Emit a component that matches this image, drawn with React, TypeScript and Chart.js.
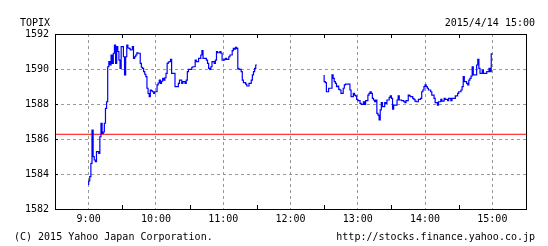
import React, { useEffect, useRef } from "react";
import { Chart, registerables } from "chart.js";

Chart.register(...registerables);

const TITLE = "TOPIX";
const STAMP = "2015/4/14 15:00";
const COPYRIGHT = "(C) 2015 Yahoo Japan Corporation.";
const SOURCE = "http://stocks.finance.yahoo.co.jp";

const PREV_CLOSE = 1586.27;
const Y_MIN = 1582;
const Y_MAX = 1592;
const Y_STEP = 2;

// x axis in minutes since midnight: 8:30 .. 15:30
const X_MIN = 510;
const X_MAX = 930;
const X_STEP = 30;
const HOUR_LABELS = ["9:00", "10:00", "11:00", "12:00", "13:00", "14:00", "15:00"];

// 1-minute values, 9:00 - 11:30
const MORNING_START = 540;
const MORNING = [
  1583.37, 1583.6, 1583.85, 1584.61, 1586.51, 1584.99, 1584.8, 1584.7, 1585.28, 1585.28,
  1585.18, 1586.13, 1586.9, 1586.32, 1586.4, 1586.9, 1587.75, 1588.13, 1590.13, 1590.42,
  1590.23, 1590.8, 1590.32, 1590.9, 1591.37, 1590.32, 1591.28, 1591.0, 1590.51, 1590.04,
  1591.28, 1591.28, 1590.7, 1589.66, 1590.7, 1591.37, 1591.2, 1591.18, 1591.09, 1591.1,
  1591.28, 1590.61, 1590.7, 1590.8, 1590.93, 1590.9, 1590.9, 1590.32, 1590.1, 1590.04,
  1589.85, 1589.7, 1589.56, 1588.9, 1588.6, 1588.42, 1588.8, 1588.75, 1588.7, 1588.61,
  1588.7, 1588.7, 1589.09, 1589.2, 1589.37, 1589.18, 1589.3, 1589.47, 1589.37, 1589.5,
  1589.75, 1590.32, 1590.4, 1590.42, 1590.55, 1589.75, 1589.75, 1589.75, 1588.99, 1588.99,
  1588.99, 1589.18, 1589.37, 1589.37, 1589.18, 1589.28, 1589.28, 1589.18, 1589.37, 1589.85,
  1589.98, 1589.98, 1589.98, 1590.1, 1590.13, 1590.13, 1590.51, 1590.42, 1590.42, 1590.61,
  1590.61, 1590.8, 1591.05, 1590.61, 1590.61, 1590.61, 1590.51, 1590.32, 1590.04, 1589.98,
  1590.13, 1590.42, 1590.42, 1590.32, 1590.51, 1590.99, 1590.93, 1590.93, 1590.99, 1590.9,
  1590.51, 1590.51, 1590.55, 1590.61, 1590.55, 1590.55, 1590.7, 1590.8, 1590.8, 1591.05,
  1591.18, 1591.13, 1591.24, 1591.18, 1590.04, 1589.98, 1589.98, 1589.85, 1589.37, 1589.22,
  1589.22, 1589.14, 1589.03, 1589.03, 1589.18, 1589.18, 1589.37, 1589.66, 1589.85, 1590.04,
  1590.23,
];

// 1-minute values, 12:30 - 15:00
const AFTERNOON_START = 750;
const AFTERNOON = [
  1589.66, 1589.28, 1589.22, 1588.7, 1588.7, 1588.9, 1588.9, 1588.9, 1589.66, 1589.47,
  1589.28, 1589.18, 1588.99, 1589.03, 1588.84, 1588.8, 1588.61, 1588.61, 1588.9, 1589.09,
  1589.14, 1589.14, 1589.14, 1589.14, 1588.8, 1588.42, 1588.42, 1588.61, 1588.51, 1588.46,
  1588.27, 1588.19, 1588.19, 1588.04, 1587.98, 1587.98, 1588.13, 1587.98, 1588.19, 1588.19,
  1588.51, 1588.61, 1588.7, 1588.61, 1588.32, 1588.23, 1588.13, 1588.23, 1587.47, 1587.37,
  1587.09, 1587.66, 1588.08, 1587.85, 1587.85, 1588.08, 1588.04, 1588.23, 1588.23, 1588.38,
  1588.46, 1588.32, 1587.7, 1587.94, 1587.94, 1587.94, 1588.23, 1588.46, 1588.23, 1588.23,
  1588.19, 1588.19, 1588.13, 1588.08, 1588.19, 1588.19, 1588.51, 1588.46, 1588.42, 1588.42,
  1588.32, 1588.27, 1588.17, 1588.13, 1588.13, 1588.27, 1588.27, 1588.32, 1588.7, 1588.8,
  1588.99, 1589.09, 1588.99, 1588.9, 1588.8, 1588.8, 1588.7, 1588.51, 1588.51, 1588.32,
  1588.08, 1588.08, 1587.94, 1588.13, 1588.13, 1588.27, 1588.17, 1588.17, 1588.32, 1588.27,
  1588.27, 1588.19, 1588.32, 1588.32, 1588.19, 1588.32, 1588.32, 1588.32, 1588.46, 1588.46,
  1588.61, 1588.7, 1588.7, 1588.8, 1588.99, 1589.56, 1589.28, 1589.28, 1589.18, 1589.09,
  1589.37, 1589.47, 1589.6, 1590.13, 1589.66, 1589.66, 1589.66, 1590.23, 1590.55, 1590.04,
  1589.75, 1589.75, 1589.94, 1589.75, 1589.75, 1589.75, 1589.85, 1589.85, 1590.04, 1589.85,
  1590.86,
];

const FONT = '10px "DejaVu Sans Mono", "Liberation Mono", monospace';

const isHour = (v: number) => v % 60 === 0 && v > X_MIN && v < X_MAX;

const framePlugin = {
  id: "frame",
  afterDraw(chart: any) {
    const { ctx, chartArea } = chart;
    const { left, right, top, bottom } = chartArea;
    const xs = chart.scales.x;
    const ys = chart.scales.y;
    ctx.save();
    ctx.strokeStyle = "#000";
    ctx.lineWidth = 1;
    ctx.setLineDash([]);
    ctx.strokeRect(Math.round(left) + 0.5, Math.round(top) + 0.5, Math.round(right - left), Math.round(bottom - top));
    ctx.beginPath();
    for (let v = X_MIN + X_STEP; v < X_MAX; v += X_STEP) {
      if (v % 60 === 0) continue;
      const px = Math.round(xs.getPixelForValue(v)) + 0.5;
      ctx.moveTo(px, top);
      ctx.lineTo(px, top + 4);
      ctx.moveTo(px, bottom);
      ctx.lineTo(px, bottom - 4);
    }
    for (let v = Y_MIN + Y_STEP; v < Y_MAX; v += Y_STEP) {
      const py = Math.round(ys.getPixelForValue(v)) + 0.5;
      ctx.moveTo(left, py);
      ctx.lineTo(left + 3, py);
    }
    ctx.stroke();
    ctx.fillStyle = "#000";
    ctx.font = FONT;
    ctx.textBaseline = "alphabetic";
    ctx.textAlign = "left";
    ctx.fillText(TITLE, 20, 26);
    ctx.fillText(COPYRIGHT, 14, 240);
    ctx.textAlign = "right";
    ctx.fillText(STAMP, 535, 26);
    ctx.fillText(SOURCE, 535, 240);
    ctx.restore();
  },
};

export default function App() {
  const ref = useRef<HTMLCanvasElement | null>(null);
  useEffect(() => {
    if (!ref.current) return;
    const series: any[] = [];
    MORNING.forEach((v, i) => series.push({ x: MORNING_START + i, y: v }));
    series.push({ x: MORNING_START + MORNING.length, y: null });
    AFTERNOON.forEach((v, i) => series.push({ x: AFTERNOON_START + i, y: v }));
    const chart = new Chart(ref.current, {
      type: "line",
      data: {
        datasets: [
          {
            data: series,
            borderColor: "#0000ff",
            borderWidth: 1.2,
            pointRadius: 0,
            stepped: "after",
            spanGaps: false,
            fill: false,
          },
          {
            data: [
              { x: X_MIN, y: PREV_CLOSE },
              { x: X_MAX, y: PREV_CLOSE },
            ],
            borderColor: "#ff0000",
            borderWidth: 1,
            pointRadius: 0,
            fill: false,
          },
        ],
      },
      options: {
        animation: false,
        responsive: false,
        maintainAspectRatio: false,
        layout: { padding: { top: 34, right: 22, left: 0, bottom: 0 } },
        plugins: { legend: { display: false }, tooltip: { enabled: false } },
        scales: {
          x: {
            type: "linear",
            min: X_MIN,
            max: X_MAX,
            afterFit: (s: any) => {
              s.height = 37;
            },
            ticks: {
              stepSize: X_STEP,
              autoSkip: false,
              maxRotation: 0,
              padding: 4,
              color: "#000",
              font: { family: '"DejaVu Sans Mono"', size: 10 },
              callback: (v: any) => {
                const n = Number(v);
                if (!isHour(n)) return "";
                return HOUR_LABELS[n / 60 - 9];
              },
            },
            grid: {
              drawTicks: false,
              lineWidth: 1,
              color: (c: any) => (c.tick && isHour(c.tick.value) ? "#999999" : "rgba(0,0,0,0)"),
            },
            border: { display: false, dash: [3, 3] },
          },
          y: {
            min: Y_MIN,
            max: Y_MAX,
            afterFit: (s: any) => {
              s.width = 55;
            },
            ticks: {
              stepSize: Y_STEP,
              padding: 6,
              color: "#000",
              font: { family: '"DejaVu Sans Mono"', size: 10 },
              callback: (v: any) => String(v),
            },
            grid: {
              drawTicks: false,
              lineWidth: 1,
              color: (c: any) =>
                c.tick && c.tick.value > Y_MIN && c.tick.value < Y_MAX ? "#999999" : "rgba(0,0,0,0)",
            },
            border: { display: false, dash: [3, 3] },
          },
        },
      },
      plugins: [framePlugin],
    });
    return () => chart.destroy();
  }, []);
  return (
    <div style={{ position: "absolute", left: 0, top: 0, width: 548, height: 246, background: "#fff" }}>
      <canvas ref={ref} width={548} height={246} style={{ width: 548, height: 246, display: "block" }} />
    </div>
  );
}
